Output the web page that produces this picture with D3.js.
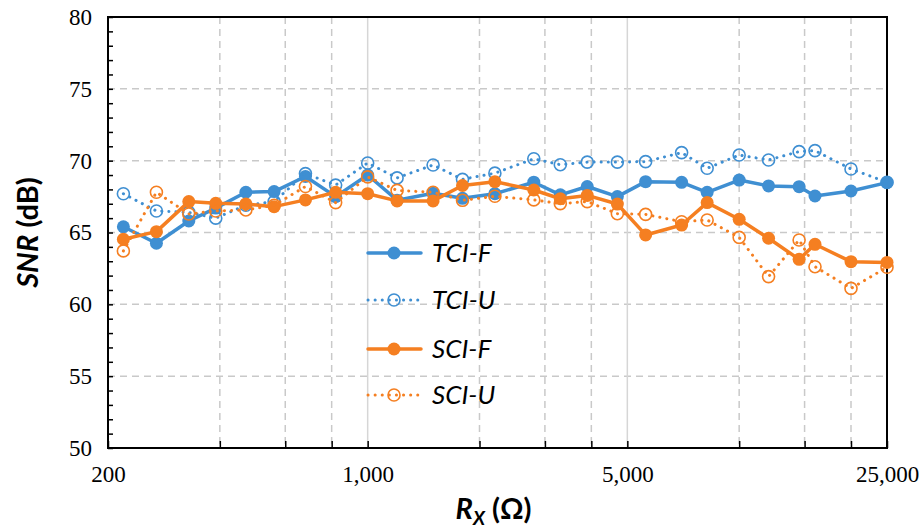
<!DOCTYPE html>
<html>
<head>
<meta charset="utf-8">
<script src="https://cdn.jsdelivr.net/npm/d3@7"></script>
<style>
  body { margin: 0; background: #fff; }
  .tick text { font-family: "Liberation Serif", "Times New Roman", serif; font-size: 23px; fill: #000; }
</style>
</head>
<body>
<div id="chart"></div>
<script>
// resistance values (ohm)
var resistance = [220, 270, 330, 390, 470, 560, 680, 820, 1000, 1200, 1500, 1800, 2200, 2800,
                  3300, 3900, 4700, 5600, 7000, 8200, 10000, 12000, 14500, 16000, 20000, 25000];

var tciF = [65.4, 64.25, 65.8, 66.7, 67.8, 67.85, 68.9, 67.5, 69.0, 67.25, 67.73, 67.38, 67.7, 68.5,
            67.62, 68.2, 67.5, 68.54, 68.49, 67.8, 68.65, 68.24, 68.19, 67.54, 67.89, 68.47];
var tciU = [67.7, 66.5, 66.4, 66.0, 66.9, 67.15, 69.1, 68.3, 69.84, 68.8, 69.7, 68.7, 69.13, 70.13,
            69.72, 69.9, 69.9, 69.93, 70.56, 69.47, 70.39, 70.05, 70.63, 70.7, 69.42, 68.5];
var sciF = [64.53, 65.06, 67.15, 67.03, 66.99, 66.8, 67.27, 67.8, 67.7, 67.2, 67.2, 68.27, 68.54, 67.96,
            67.35, 67.58, 66.98, 64.83, 65.52, 67.08, 65.92, 64.6, 63.13, 64.18, 62.97, 62.92];
var sciU = [63.72, 67.8, 66.29, 66.5, 66.57, 66.9, 68.2, 67.08, 68.87, 67.93, 67.8, 67.24, 67.52, 67.27,
            67.01, 67.15, 66.31, 66.26, 65.75, 65.87, 64.66, 61.93, 64.48, 62.62, 61.11, 62.58];

var seriesNames = ["TCI-F", "TCI-U", "SCI-F", "SCI-U"];

var xTicks = [200, 400, 600, 800, 1000, 2000, 3000, 4000, 5000, 10000, 15000, 20000, 25000];
var xLabels = [200, 1000, 5000, 25000];
var xMajor = [1000, 5000];
var yTicks = d3.range(50, 81, 1);
var yGrid = [55, 60, 65, 70, 75];

var blue = "#3f8fd2", orange = "#f57f21";

var width = 921, height = 530;
var margin = {top: 17, right: 34, bottom: 82, left: 108};
var w = width - margin.left - margin.right;
var h = height - margin.top - margin.bottom;

var svg = d3.select("#chart")
    .append("svg")
    .attr("width", width)
    .attr("height", height);

var g = svg.append("g")
    .attr("transform", "translate(" + margin.left + "," + margin.top + ")");

var x = d3.scaleLog().base(5).domain([200, 25000]).range([0, w]);
var y = d3.scaleLinear().domain([50, 80]).range([h, 0]);

// gridlines
g.selectAll(".hgrid")
    .data(yGrid)
    .enter()
    .append("line")
    .attr("class", "hgrid")
    .attr("x1", 0).attr("x2", w)
    .attr("y1", function(d) { return y(d); })
    .attr("y2", function(d) { return y(d); })
    .attr("stroke", "#c9c9c9")
    .attr("stroke-width", 1.5)
    .attr("stroke-dasharray", "7 5");

g.selectAll(".vgrid")
    .data(xTicks.slice(1, -1))
    .enter()
    .append("line")
    .attr("class", "vgrid")
    .attr("y1", 0).attr("y2", h)
    .attr("x1", function(d) { return x(d); })
    .attr("x2", function(d) { return x(d); })
    .attr("stroke", function(d) { return xMajor.indexOf(d) >= 0 ? "#d6d6d6" : "#c9c9c9"; })
    .attr("stroke-width", 1.5)
    .attr("stroke-dasharray", function(d) { return xMajor.indexOf(d) >= 0 ? null : "7 5"; });

// axes
var yAxis = d3.axisLeft(y)
    .tickValues(yTicks)
    .tickSize(-5)
    .tickPadding(16)
    .tickFormat(function(d) { return d % 5 === 0 ? d : ""; });

var xAxis = d3.axisBottom(x)
    .tickValues(xTicks)
    .tickSize(-7)
    .tickPadding(18)
    .tickFormat(function(d) { return xLabels.indexOf(d) >= 0 ? d3.format(",")(d) : ""; });

var gy = g.append("g").call(yAxis);
var gx = g.append("g").attr("transform", "translate(0," + h + ")").call(xAxis);
gy.select(".domain").remove();
gx.select(".domain").remove();
g.selectAll(".tick line").attr("stroke", "#000").attr("stroke-width", 1.5);
gx.selectAll(".tick text").attr("dy", "0.7em");

g.append("rect")
    .attr("width", w).attr("height", h)
    .attr("fill", "none")
    .attr("stroke", "#000")
    .attr("stroke-width", 2);

// series
var series = [
    {name: seriesNames[0], values: tciF, color: blue, filled: true},
    {name: seriesNames[1], values: tciU, color: blue, filled: false},
    {name: seriesNames[2], values: sciF, color: orange, filled: true},
    {name: seriesNames[3], values: sciU, color: orange, filled: false}
];

var line = d3.line()
    .x(function(d) { return x(d[0]); })
    .y(function(d) { return y(d[1]); });

var styleLine = function(sel, s) {
    sel.attr("fill", "none")
        .attr("stroke", s.color)
        .attr("stroke-width", s.filled ? 3.5 : 3)
        .attr("stroke-linecap", "round")
        .attr("stroke-linejoin", "round")
        .attr("stroke-dasharray", s.filled ? null : "0.1 7");
};

var styleMarker = function(sel, s) {
    sel.attr("r", s.filled ? 6.5 : 6)
        .attr("fill", s.filled ? s.color : "none")
        .attr("stroke", s.color)
        .attr("stroke-width", s.filled ? 0 : 1.6);
};

series.forEach(function(s) {
    var pts = resistance.map(function(r, i) { return [r, s.values[i]]; });
    g.append("path").datum(pts).attr("d", line).call(styleLine, s);
    g.selectAll(null)
        .data(pts)
        .enter()
        .append("circle")
        .attr("cx", function(d) { return x(d[0]); })
        .attr("cy", function(d) { return y(d[1]); })
        .call(styleMarker, s);
});

// legend
var legendRows = [253, 300, 349, 395];
series.forEach(function(s, i) {
    var lg = svg.append("g").attr("transform", "translate(368," + legendRows[i] + ")");
    lg.append("path").attr("d", "M0,0H53").call(styleLine, s);
    lg.append("circle").attr("cx", 26).attr("cy", 0).call(styleMarker, s);
    lg.append("text")
        .attr("x", 64).attr("y", 0).attr("dy", "0.35em")
        .attr("font-family", "Lato, 'Open Sans', sans-serif")
        .attr("font-style", "italic")
        .attr("font-size", 26)
        .text(s.name);
});

// axis titles
var yt = svg.append("text")
    .attr("transform", "translate(38," + (margin.top + h / 2) + ") rotate(-90)")
    .attr("text-anchor", "middle")
    .attr("font-family", "Lato, 'Open Sans', sans-serif")
    .attr("font-weight", "bold")
    .attr("font-size", 29);
yt.append("tspan").attr("font-style", "italic").text("SNR");
yt.append("tspan").text(" (dB)");

var xt = svg.append("text")
    .attr("x", margin.left + w / 2 - 4)
    .attr("y", 519)
    .attr("text-anchor", "middle")
    .attr("font-family", "Lato, 'Open Sans', sans-serif")
    .attr("font-weight", "bold")
    .attr("font-size", 29);
xt.append("tspan").attr("font-style", "italic").text("R");
xt.append("tspan").attr("font-style", "italic").attr("font-size", 19).attr("dy", 6).text("X");
xt.append("tspan").attr("dy", -6).text(" (Ω)");
</script>
</body>
</html>
